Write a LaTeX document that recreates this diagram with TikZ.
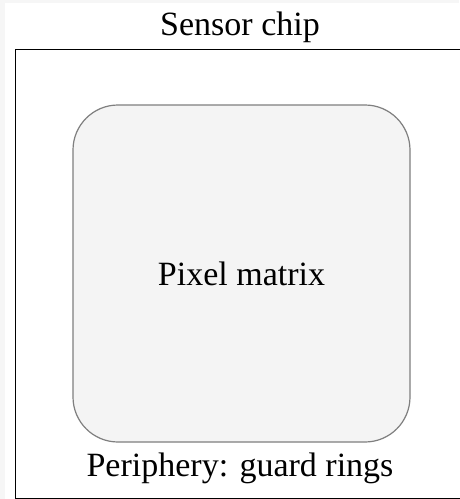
\documentclass[tikz,border=0pt]{standalone}
\usepackage{fontspec}
\setmainfont{Liberation Serif}
\usepackage{tikz}
\usetikzlibrary{positioning}
\definecolor{cgray}{HTML}{7F7F7F}
\definecolor{cfill}{HTML}{F4F4F4}
\definecolor{cedge}{HTML}{F6F6F6}

\begin{document}
\begin{tikzpicture}[x=1pt, y=-1pt,
  lbl/.style={font=\fontsize{34}{40}\selectfont, inner sep=0pt}]

  %% Canvas
  \fill[cedge] (0,0) rectangle (459,499);
  \fill[white] (5,3) rectangle (459,499);
  \useasboundingbox (0,0) rectangle (459,499);

  %% Chip outline
  \node[draw=black, line width=1.3pt, inner sep=0pt, anchor=north west,
    minimum width=454.5pt, minimum height=449pt] (chip) at (14.5,48.5) {};
  \node[lbl, anchor=base] (chiptitle) at (240,35) {Sensor chip};

  %% Pixel matrix
  \node[lbl, draw=cgray, fill=cfill, line width=1.2pt, rounded corners=45pt,
    minimum width=337pt, minimum height=337pt] (pixmatrix) at (241.5,273.5) {Pixel matrix};

  %% Periphery
  \node[lbl, anchor=base] (periph) at (240,476) {Periphery: guard rings};

\end{tikzpicture}
\end{document}
